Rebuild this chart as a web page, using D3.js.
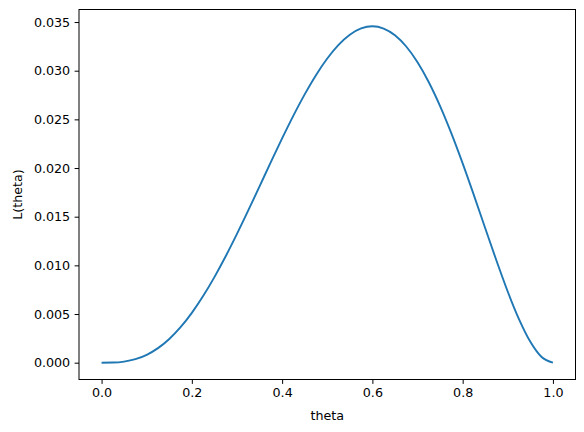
<!DOCTYPE html>
<html>
<head>
<meta charset="utf-8">
<script src="https://cdn.jsdelivr.net/npm/d3@7"></script>
<style>
  body { margin: 0; background: #fff; }
  text { font-family: "DejaVu Sans", sans-serif; }
</style>
</head>
<body>
<svg id="chart" width="584" height="432"></svg>
<script>
// theta values and L(theta)
var theta = [0, 0.025, 0.05, 0.075, 0.1, 0.125, 0.15, 0.175, 0.2, 0.225, 0.25, 0.275, 0.3, 0.325, 0.35, 0.375, 0.4, 0.425, 0.45, 0.475, 0.5,
             0.525, 0.55, 0.575, 0.6, 0.625, 0.65, 0.675, 0.7, 0.725, 0.75, 0.775, 0.8, 0.825, 0.85, 0.875, 0.9, 0.925, 0.95, 0.975, 1.0];
var likelihood = [0, 0.0000149, 0.000113, 0.000361, 0.00081, 0.001495, 0.002438, 0.003648, 0.00512, 0.006842, 0.008789, 0.010931, 0.01323,
                  0.015641, 0.018115, 0.020599, 0.02304, 0.025381, 0.027565, 0.029539, 0.03125, 0.032649, 0.033691, 0.034338, 0.03456,
                  0.034332, 0.033642, 0.032485, 0.03087, 0.028819, 0.026367, 0.023565, 0.02048, 0.017196, 0.013818, 0.010468, 0.00729,
                  0.004452, 0.002143, 0.000579, 0];
var xTicks = [0.0, 0.2, 0.4, 0.6, 0.8, 1.0];
var yTicks = [0.000, 0.005, 0.010, 0.015, 0.020, 0.025, 0.030, 0.035];

var svg = d3.select("#chart");
var plotLeft = 79, plotRight = 575.5, plotTop = 9.5, plotBottom = 379.5;

var data = theta.map(function(t, i) { return [t, likelihood[i]]; });

// 5% padding like matplotlib autoscale
var xPad = 0.05 * (d3.max(theta) - d3.min(theta));
var yPad = 0.05 * (d3.max(likelihood) - d3.min(likelihood));
var x = d3.scaleLinear().domain([d3.min(theta) - xPad, d3.max(theta) + xPad]).range([plotLeft, plotRight]);
var y = d3.scaleLinear().domain([d3.min(likelihood) - yPad, d3.max(likelihood) + yPad]).range([plotBottom, plotTop]);

svg.append("path")
  .datum(data)
  .attr("fill", "none")
  .attr("stroke", "#1f77b4")
  .attr("stroke-width", 1.9)
  .attr("stroke-linejoin", "round")
  .attr("d", d3.line().x(function(d) { return x(d[0]); }).y(function(d) { return y(d[1]); }).curve(d3.curveMonotoneX));

// axes
var xAxis = svg.append("g")
  .attr("transform", "translate(0," + plotBottom + ")")
  .call(d3.axisBottom(x).tickValues(xTicks).tickFormat(d3.format(".1f")).tickSize(4.4).tickPadding(4.4));
var yAxis = svg.append("g")
  .attr("transform", "translate(" + plotLeft + ",0)")
  .call(d3.axisLeft(y).tickValues(yTicks).tickFormat(d3.format(".3f")).tickSize(4.4).tickPadding(4.4));

[xAxis, yAxis].forEach(function(g) {
  g.select(".domain").remove();
  g.selectAll("line").attr("stroke", "#000").attr("stroke-width", 1);
  g.selectAll("text").attr("fill", "#000").style("font-size", "12.7px").style("font-family", "DejaVu Sans");
});

// frame
svg.append("rect")
  .attr("x", plotLeft).attr("y", plotTop)
  .attr("width", plotRight - plotLeft).attr("height", plotBottom - plotTop)
  .attr("fill", "none").attr("stroke", "#000").attr("stroke-width", 1);

svg.append("text")
  .attr("x", (plotLeft + plotRight) / 2).attr("y", 420)
  .attr("text-anchor", "middle")
  .style("font-size", "12.7px")
  .text("theta");

svg.append("text")
  .attr("transform", "translate(22," + ((plotTop + plotBottom) / 2) + ") rotate(-90)")
  .attr("text-anchor", "middle")
  .style("font-size", "12.7px")
  .text("L(theta)");
</script>
</body>
</html>
